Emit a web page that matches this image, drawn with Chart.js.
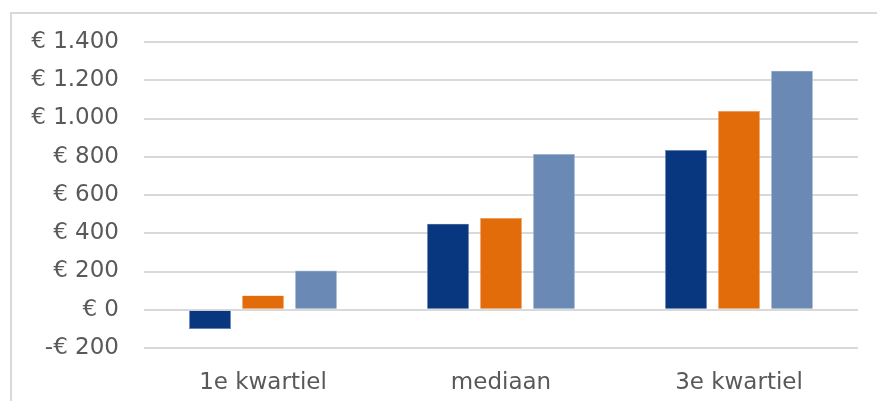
<!DOCTYPE html>
<html>
<head>
<meta charset="utf-8">
<script src="https://cdn.jsdelivr.net/npm/chart.js@4"></script>
<style>
  html, body { margin: 0; padding: 0; background: #fff; overflow: hidden; }
  #frame { position: absolute; left: 10px; top: 12px; width: 900px; height: 420px;
           border-left: 2px solid #d9d9d9; border-top: 2px solid #d9d9d9; box-sizing: border-box; }
  #wrap { position: absolute; left: 0; top: 0; width: 877px; height: 401px; }
</style>
</head>
<body>
<div id="frame"></div>
<div id="wrap"><canvas id="c" width="877" height="401"></canvas></div>
<script>
const categories = ['1e kwartiel', 'mediaan', '3e kwartiel'];
const seriesA = [-100, 450, 835];
const seriesB = [75, 480, 1040];
const seriesC = [205, 815, 1250];
const yTicks = [-200, 0, 200, 400, 600, 800, 1000, 1200, 1400];

function euro(v) {
  const s = Math.abs(v).toString().replace(/\B(?=(\d{3})+(?!\d))/g, '.');
  return (v < 0 ? '-€ ' : '€ ') + s;
}

const font = { family: 'DejaVu Sans', size: 23 };

new Chart(document.getElementById('c'), {
  type: 'bar',
  data: {
    labels: categories,
    datasets: [
      { data: seriesA, backgroundColor: '#083780', borderColor: '#5b7bb8', borderWidth: 0.6 },
      { data: seriesB, backgroundColor: '#E26B0A', borderColor: '#f0a060', borderWidth: 0.6 },
      { data: seriesC, backgroundColor: '#6A89B5', borderColor: '#a9bcd8', borderWidth: 0.6 }
    ]
  },
  options: {
    responsive: false,
    animation: false,
    devicePixelRatio: 1,
    layout: { padding: { top: 42, right: 19, left: 0, bottom: 0 } },
    datasets: { bar: { categoryPercentage: 0.668, barPercentage: 0.79 } },
    plugins: { legend: { display: false }, tooltip: { enabled: false } },
    scales: {
      x: {
        grid: { display: false },
        border: { display: false },
        ticks: { color: '#595959', font: font, padding: 13 },
        afterFit: s => { s.height = 53; }
      },
      y: {
        min: -200, max: 1400,
        afterBuildTicks: s => { s.ticks = yTicks.map(v => ({ value: v })); },
        grid: { color: '#d9d9d9', lineWidth: 2, drawTicks: false },
        border: { display: false },
        ticks: { color: '#595959', font: font, padding: 25, crossAlign: 'near', callback: v => euro(v) },
        afterFit: s => { s.width = 144; }
      }
    }
  }
});
</script>
</body>
</html>
